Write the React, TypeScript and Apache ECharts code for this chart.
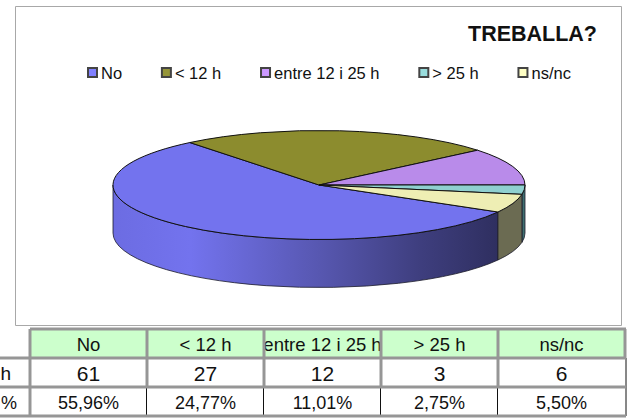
import React, { useEffect, useRef } from "react";
import * as echarts from "echarts";

const categories = ["No", "< 12 h", "entre 12 i 25 h", "> 25 h", "ns/nc"];
const counts = [61, 27, 12, 3, 6];
const percents = ["55,96%", "24,77%", "11,01%", "2,75%", "5,50%"];
const rowLabels = ["h", "%"];
const titleText = "TREBALLA?";

const legendColors = ["#8080ff", "#959538", "#cc99ff", "#99dddd", "#ffffc4"];
const topColors = ["#7373ee", "#8c8c2e", "#b98bea", "#8fd0d0", "#eeeeb4"];
const sideColors = ["#5555aa", "#60601f", "#7a5ca0", "#3f6f70", "#6b6b52"];

const CX = 319;
const CY = 185;
const RX = 206;
const RY = 54.5;
const DEPTH = 48;
const START_DEG = 29.7;

const colEdges = [30, 147, 264, 381, 498, 625];
const rowEdges = [329, 358, 387, 416];
const FONT = "Liberation Sans";

const pt = (deg: number, dy = 0) => {
  const r = (deg * Math.PI) / 180;
  return [CX + RX * Math.cos(r), CY + dy + RY * Math.sin(r)];
};

const topPath = (a: number, b: number) => {
  const p = pt(a);
  const q = pt(b);
  const large = b - a > 180 ? 1 : 0;
  return `M${CX} ${CY}L${p[0]} ${p[1]}A${RX} ${RY} 0 ${large} 1 ${q[0]} ${q[1]}Z`;
};

const sidePath = (s: number, e: number) => {
  const p = pt(s);
  const q = pt(e);
  const q2 = pt(e, DEPTH);
  const p2 = pt(s, DEPTH);
  return `M${p[0]} ${p[1]}A${RX} ${RY} 0 0 1 ${q[0]} ${q[1]}L${q2[0]} ${q2[1]}A${RX} ${RY} 0 0 0 ${p2[0]} ${p2[1]}Z`;
};

const total = counts.reduce((s, v) => s + v, 0);

const sideFill = (i: number): any =>
  i === 0
    ? {
        type: "linear",
        global: true,
        x: CX - RX,
        y: 0,
        x2: pt(START_DEG)[0],
        y2: 0,
        colorStops: [
          { offset: 0, color: "#6c6ce2" },
          { offset: 0.2, color: "#7373ee" },
          { offset: 0.55, color: "#5656ae" },
          { offset: 0.8, color: "#3e3e7e" },
          { offset: 1, color: "#2f2f60" },
        ],
      }
    : sideColors[i];

const makeSeries = (i: number) => ({
  type: "custom",
  name: categories[i],
  coordinateSystem: "none",
  silent: true,
  itemStyle: { color: legendColors[i], borderColor: "#444", borderWidth: 1 },
  data: [[counts[i]]],
  renderItem: (_p: any, api: any) => {
    const before = counts.slice(0, i).reduce((s, v) => s + v, 0);
    const a = START_DEG + (before / total) * 360;
    const b = a + (api.value(0) / total) * 360;
    const children: any[] = [];
    for (const [lo, hi] of [
      [0, 180],
      [360, 540],
    ]) {
      const s = Math.max(a, lo);
      const e = Math.min(b, hi);
      if (e - s > 0.01) {
        children.push({
          type: "path",
          z2: 1,
          shape: { pathData: sidePath(s, e) },
          style: { fill: sideFill(i), stroke: "#1a1a2a", lineWidth: 0.8 },
        });
      }
    }
    children.push({
      type: "path",
      z2: 2,
      shape: { pathData: topPath(a, b) },
      style: { fill: topColors[i], stroke: "#111", lineWidth: 1 },
    });
    return { type: "group", children };
  },
});

const tableGraphics = () => {
  const els: any[] = [];
  const line = (x1: number, y1: number, x2: number, y2: number, stroke: string, lineWidth: number, z: number) =>
    els.push({ type: "line", z, shape: { x1, y1, x2, y2 }, style: { stroke, lineWidth } });
  const text = (t: string, x: number, y: number, size: number, align = "center") =>
    els.push({
      type: "text",
      z: 5,
      x,
      y,
      style: { text: t, fontFamily: FONT, fontSize: size, fill: "#111", align, verticalAlign: "middle" },
    });

  els.push({
    type: "rect",
    z: -1,
    shape: { x: 15.5, y: 6.5, width: 606, height: 319 },
    style: { fill: "#fff", stroke: "#a8a8a8", lineWidth: 1 },
  });
  els.push({
    type: "rect",
    z: 1,
    shape: { x: colEdges[0], y: rowEdges[0], width: colEdges[5] - colEdges[0], height: rowEdges[1] - rowEdges[0] },
    style: { fill: "#ccffcc" },
  });

  categories.forEach((c, i) => {
    const mx = (colEdges[i] + colEdges[i + 1]) / 2;
    text(c, mx, (rowEdges[0] + rowEdges[1]) / 2 + 1, 18.5);
    text(String(counts[i]), mx, (rowEdges[1] + rowEdges[2]) / 2 + 1, 21);
    text(percents[i], mx, (rowEdges[2] + rowEdges[3]) / 2 + 1, 18);
  });
  text(rowLabels[0], 11, (rowEdges[1] + rowEdges[2]) / 2 + 1, 19, "right");
  text(rowLabels[1], 17, (rowEdges[2] + rowEdges[3]) / 2 + 1, 18, "right");

  const grey = "#969696";
  colEdges.forEach((x, i) => {
    if (i === colEdges.length - 1) {
      line(x, rowEdges[0], x, rowEdges[1], grey, 3, 7);
      line(x + 1, rowEdges[1], x + 1, rowEdges[3], "#111", 1, 6);
    } else if (i === 0) {
      line(x, rowEdges[0], x, rowEdges[3] + 1, grey, 3, 7);
    } else {
      line(x, rowEdges[0], x, rowEdges[2], grey, 3, 7);
      line(x - 0.5, rowEdges[2], x - 0.5, rowEdges[3], "#111", 1, 6);
    }
  });
  line(colEdges[0], rowEdges[0], 626, rowEdges[0], grey, 3, 7);
  rowEdges.slice(1).forEach((y) => line(0, y, 626, y, grey, 3, 7));
  return els;
};

export default function App() {
  const ref = useRef<HTMLDivElement>(null);
  useEffect(() => {
    const chart = echarts.init(ref.current!, null, { renderer: "svg", width: 632, height: 418 });
    chart.setOption({
      animation: false,
      backgroundColor: "#fff",
      title: {
        text: titleText,
        right: 35,
        top: 23,
        padding: 0,
        textStyle: { fontFamily: FONT, fontSize: 21.5, fontWeight: "bold", color: "#111" },
      },
      legend: {
        left: 87,
        top: 64,
        padding: 0,
        orient: "horizontal",
        icon: "rect",
        itemWidth: 9,
        itemHeight: 9,
        itemGap: 38.8,
        selectedMode: false,
        data: categories,
        textStyle: { fontFamily: FONT, fontSize: 16.5, color: "#111", padding: [0, 0, 0, -1] },
      },
      graphic: { elements: tableGraphics() },
      series: categories.map((_, i) => makeSeries(i)),
    });
    return () => chart.dispose();
  }, []);
  return <div ref={ref} style={{ position: "absolute", left: 0, top: 0, width: 632, height: 418 }} />;
}
